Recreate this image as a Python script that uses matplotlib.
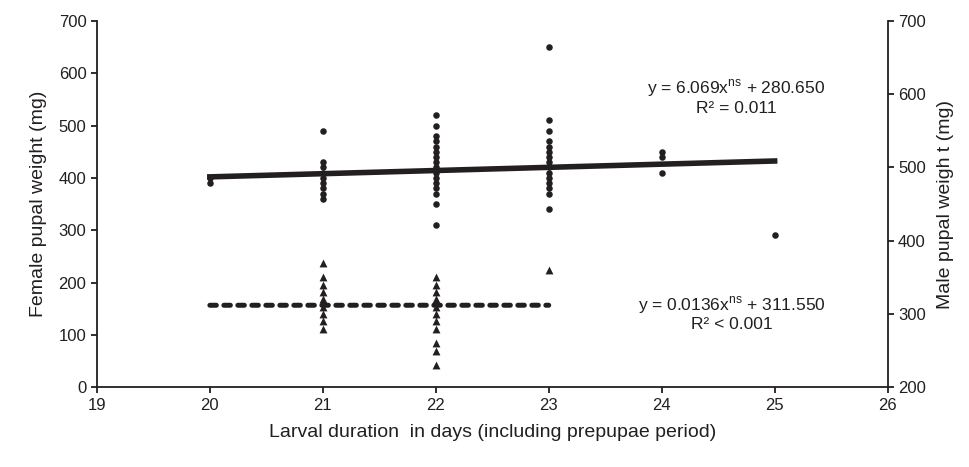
import matplotlib.pyplot as plt
import numpy as np

plt.rcParams['font.family'] = ['Liberation Sans', 'DejaVu Sans']
ink = '#231f20'

## Female pupal weights (mg) by larval duration (days)
female_days = [20, 20,
               21, 21, 21, 21, 21, 21, 21, 21, 21,
               22, 22, 22, 22, 22, 22, 22, 22, 22, 22, 22, 22, 22, 22, 22, 22,
               23, 23, 23, 23, 23, 23, 23, 23, 23, 23, 23, 23, 23, 23, 23,
               24, 24, 24,
               25]
female_wt = [400, 390,
             490, 430, 420, 410, 400, 390, 380, 370, 360,
             520, 500, 480, 470, 460, 450, 440, 430, 420, 410, 400, 390, 380, 370, 350, 310,
             650, 510, 490, 470, 460, 450, 440, 430, 420, 410, 400, 390, 380, 370, 340,
             450, 440, 410,
             290]

## Male pupal weights (mg), right axis
male_days = [21, 21, 21, 21, 21, 21, 21, 21, 21,
             22, 22, 22, 22, 22, 22, 22, 22, 22, 22, 22,
             23]
male_wt = [370, 350, 340, 330, 320, 310, 300, 290, 280,
           350, 340, 330, 320, 310, 300, 290, 280, 260, 250, 230,
           360]

## Fitted lines
f_slope, f_icpt = 6.069, 280.650
m_slope, m_icpt = 0.0136, 311.550
f_range = [20, 25]
m_range = [20, 23]

fig = plt.figure(figsize=(9.69, 4.67), dpi=100)
ax = fig.add_axes([0.100, 0.171, 0.816, 0.784])
ax2 = ax.twinx()

ax.scatter(female_days, female_wt, s=22, marker='o', color=ink, zorder=3, linewidths=0)
fx = np.array(f_range)
ax.plot(fx, f_slope * fx + f_icpt, color=ink, lw=4, zorder=2)

ax2.scatter(male_days, male_wt, s=32, marker='^', color=ink, zorder=3, linewidths=0)
mx = np.array(m_range)
ax2.plot(mx, m_slope * mx + m_icpt, color=ink, lw=3.6, ls=(0, (1.3, 1.5)),
         dash_capstyle='round', zorder=2)

ax.set_xlim(19, 26)
ax.set_ylim(0, 700)
ax2.set_ylim(200, 700)
ax.set_xticks(range(19, 27))
ax.set_yticks(range(0, 701, 100))
ax2.set_yticks(range(200, 701, 100))

for a in (ax, ax2):
    a.spines['top'].set_visible(False)
    for s in a.spines.values():
        s.set_linewidth(1.3)
        s.set_color(ink)
    a.tick_params(direction='out', length=4, width=1.3, colors=ink, labelsize=12)
ax.spines['right'].set_visible(False)
ax2.spines['left'].set_visible(False)
ax2.spines['bottom'].set_visible(False)

ax.set_xlabel('Larval duration  in days (including prepupae period)', fontsize=14,
              color=ink, labelpad=8)
ax.set_ylabel('Female pupal weight (mg)', fontsize=14, color=ink, labelpad=8)
ax2.set_ylabel('Male pupal weigh t (mg)', fontsize=14, color=ink, labelpad=8)

ax.text(24.66, 572, r'y = 6.069x$^{\mathregular{ns}}$ + 280.650', ha='center', va='center',
        fontsize=12.5, color=ink)
ax.text(24.66, 532, 'R² = 0.011', ha='center', va='center', fontsize=12.5, color=ink)
ax.text(24.62, 157, r'y = 0.0136x$^{\mathregular{ns}}$ + 311.550', ha='center', va='center',
        fontsize=12.5, color=ink)
ax.text(24.62, 119, 'R² < 0.001', ha='center', va='center', fontsize=12.5, color=ink)

fig.savefig('out.png', dpi=100)
